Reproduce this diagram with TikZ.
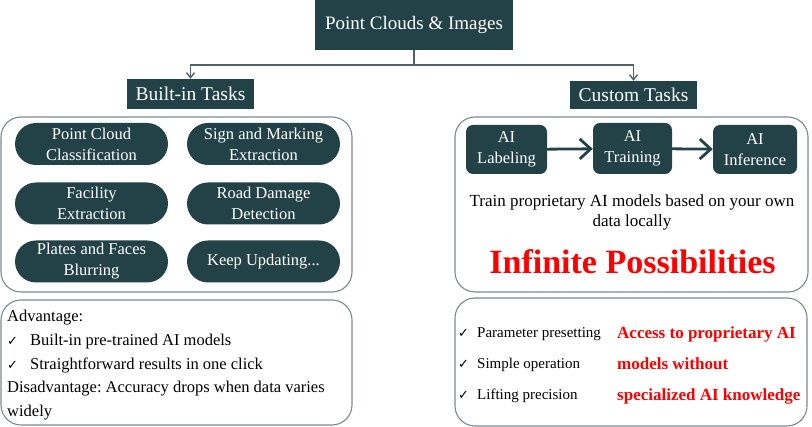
\documentclass[tikz,border=0pt]{standalone}
\usepackage{fontspec}
\setmainfont{Liberation Serif}
\newfontfamily\symfont{DejaVu Sans}
\usetikzlibrary{arrows.meta}
\definecolor{darkteal}{HTML}{234247}
\definecolor{framegray}{HTML}{7B8794}
\definecolor{linkgray}{HTML}{4F6268}
\newcommand{\okmark}[1]{\makebox[#1][l]{\symfont\fontsize{13}{13}\selectfont ✓}}
\frenchspacing
\tikzset{
  headbox/.style={fill=darkteal, text=white, inner sep=0pt, font=\fontsize{19.5}{22}\selectfont},
  taskpill/.style={fill=darkteal, text=white, rounded corners=21pt, minimum width=153pt, minimum height=42pt, inner sep=0pt, align=center, font=\fontsize{16.5}{21}\selectfont},
  stepnode/.style={fill=darkteal, text=white, rounded corners=7pt, inner sep=0pt, align=center, minimum height=49pt, font=\fontsize{16.5}{21}\selectfont},
  panel/.style={draw=framegray, line width=1.1pt, rounded corners=20pt},
  link/.style={draw=linkgray, line width=1.4pt, -{Straight Barb[length=5pt,width=8pt]}},
  flow/.style={draw=darkteal, line width=2.8pt, -{Straight Barb[length=11pt,width=20pt,line width=2.8pt]}}
}
\begin{document}
\begin{tikzpicture}[x=1pt,y=-1pt]
\useasboundingbox (0,0) rectangle (812,427);
\node[headbox, minimum width=198pt, minimum height=50pt, font=\fontsize{19}{22}\selectfont] (pci) at (414,25) {Point Clouds \& Images};
\node[headbox, minimum width=127pt, minimum height=30pt] (builtin) at (190.5,94) {Built-in Tasks};
\node[headbox, minimum width=127pt, minimum height=28pt] (custom) at (633.5,95) {Custom Tasks};
\coordinate (split) at (414,65);
\draw[link] (pci.south) -- (split) -| (builtin.north);
\draw[link] (split) -| (custom.north);
\draw[panel] (1,117) rectangle (352,292);
\draw[panel] (455,117) rectangle (808,292);
\draw[panel] (1,300) rectangle (352,425);
\draw[panel] (455,298) rectangle (807,426);
\node[taskpill] (pcc) at (91.5,144) {Point Cloud\\Classification};
\node[taskpill] (sme) at (263.5,144) {Sign and Marking\\Extraction};
\node[taskpill] (fex) at (91.5,203.5) {Facility\\Extraction};
\node[taskpill] (rdd) at (263.5,203.5) {Road Damage\\Detection};
\node[taskpill] (pfb) at (91.5,261.5) {Plates and Faces\\Blurring};
\node[taskpill] (kup) at (263.5,261.5) {Keep Updating...};
\node[stepnode, minimum width=81pt] (label) at (506.5,149.5) {AI\\Labeling};
\node[stepnode, minimum width=79pt, minimum height=51pt] (train) at (632.5,148.5) {AI\\Training};
\node[stepnode, minimum width=84pt] (infer) at (755,149.5) {AI\\Inference};
\draw[flow] (label) -- (train);
\draw[flow] (train) -- (infer);
\node[align=center, inner sep=0pt, font=\fontsize{17}{20}\selectfont] (trainnote) at (632,212) {Train proprietary AI models based on your own\\data locally};
\node[inner sep=0pt, text=red, font=\fontsize{34}{38}\selectfont\bfseries] (infinite) at (632.5,262) {Infinite Possibilities};
\node[anchor=north west, align=left, inner sep=0pt, font=\fontsize{16.5}{23.7}\selectfont] (pros) at (7,310) {Advantage:\\\okmark{23pt}Built-in pre-trained AI models\\\okmark{23pt}Straightforward results in one click\\Disadvantage: Accuracy drops when data varies\\widely};
\node[anchor=west, align=left, inner sep=0pt, font=\fontsize{15}{31}\selectfont] (feats) at (458,365) {\okmark{19pt}Parameter presetting\\\okmark{19pt}Simple operation\\\okmark{19pt}Lifting precision};
\node[anchor=west, align=left, inner sep=0pt, text=red, font=\fontsize{17}{31}\selectfont\bfseries] (gain) at (617,365) {Access to proprietary AI\\models without\\specialized AI knowledge};
\end{tikzpicture}
\end{document}
